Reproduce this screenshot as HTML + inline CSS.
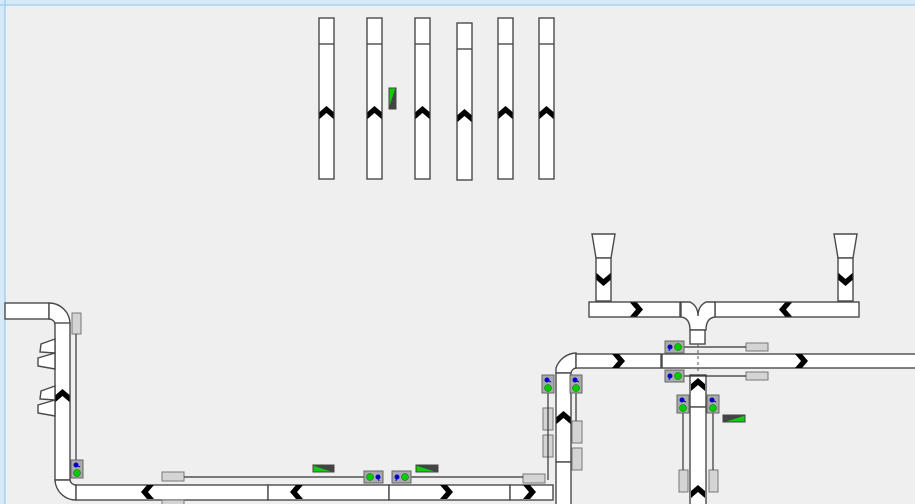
<!DOCTYPE html>
<html><head><meta charset="utf-8"><style>
html,body{margin:0;padding:0;background:#efefef;}
svg{display:block}
</style></head><body>
<svg width="915" height="504" xmlns="http://www.w3.org/2000/svg">
<defs>
<g id="chU"><polygon points="0,-7 7,-1 7,6 0,0 -7,6 -7,-1" fill="#000"/></g>
<g id="sens"><rect x="0" y="0" width="12" height="18" fill="#aaa" stroke="#666"/><circle cx="6" cy="13" r="3.5" fill="#0c0" stroke="#060" stroke-width=".5"/><circle cx="5" cy="5" r="2.5" fill="#00c"/><line x1="5" y1="5" x2="9" y2="7" stroke="#00c"/></g>
<g id="sensH"><rect x="0" y="0" width="19" height="12" fill="#aaa" stroke="#666"/><circle cx="5" cy="6" r="2.5" fill="#00c"/><line x1="5" y1="6" x2="4" y2="10" stroke="#00c"/><circle cx="13" cy="6" r="3.5" fill="#0c0" stroke="#060" stroke-width=".5"/></g>
</defs>
<rect x="0" y="0" width="915" height="5" fill="#d6e9f7"/>
<rect x="0" y="0" width="5" height="504" fill="#d6e9f7"/>
<line x1="0" y1="5" x2="915" y2="5" stroke="#8cc4ec"/>
<line x1="5" y1="0" x2="5" y2="504" stroke="#8cc4ec"/>
<g fill="#fff" stroke="#4a4a4a" stroke-width="1.4">
<rect x="319" y="18" width="15" height="161"/><line x1="319" y1="44" x2="334" y2="44"/>
<rect x="367" y="18" width="15" height="161"/><line x1="367" y1="44" x2="382" y2="44"/>
<rect x="415" y="18" width="15" height="161"/><line x1="415" y1="44" x2="430" y2="44"/>
<rect x="457" y="23" width="15" height="157"/><line x1="457" y1="49" x2="472" y2="49"/>
<rect x="498" y="18" width="15" height="161"/><line x1="498" y1="44" x2="513" y2="44"/>
<rect x="539" y="18" width="15" height="161"/><line x1="539" y1="44" x2="554" y2="44"/>
<rect x="5" y="303" width="44" height="16"/>
<path d="M49,303 A21,21 0 0 1 70,324 L55,324 A6,6 0 0 0 49,319 Z"/>
<rect x="55" y="323" width="15" height="157"/>
<path d="M55,480 L70,480 A6,6 0 0 0 76,485 L76,500 A21,21 0 0 1 55,480 Z"/>
<rect x="76" y="485" width="192" height="15"/>
<rect x="268" y="485" width="121" height="15"/>
<rect x="389" y="485" width="121" height="15"/>
<rect x="510" y="485" width="43" height="15"/>
<polygon points="55,339 41,344 40,352 55,353"/>
<polygon points="55,353 38,358 38,366 55,369"/>
<polygon points="55,386 41,391 40,399 55,400"/>
<polygon points="55,400 38,405 38,413 55,416"/>
<path d="M556,368 A22,22 0 0 1 576,353 L576,368 A6,6 0 0 0 571,373 L556,373 Z"/>
<rect x="556" y="373" width="15" height="89"/><rect x="556" y="462" width="15" height="45"/>
<rect x="576" y="354" width="85" height="14"/><rect x="662" y="354" width="260" height="14"/>
<rect x="690" y="375" width="16" height="32"/><rect x="690" y="407" width="16" height="100"/>
<polygon points="592,234 615,234 611,258 596,258"/>
<rect x="596" y="258" width="15" height="43"/>
<polygon points="834,234 857,234 853,258 838,258"/>
<rect x="838" y="258" width="15" height="43"/>
<rect x="589" y="302" width="91" height="15"/>
<rect x="715" y="302" width="144" height="15"/>
<path d="M681,302 L690,302 Q698,306 698,316 Q698,306 706,302 L715,302 L715,317 Q706,318 706,330 L690,330 Q690,318 681,317 Z"/>
<rect x="690" y="330" width="15" height="14"/>
<g fill="#d4d4d4" stroke="#777" stroke-width="1">
<rect x="72" y="313" width="9" height="21"/>
<rect x="162" y="472" width="22" height="9"/><rect x="523" y="474" width="22" height="9"/>
<rect x="543" y="408" width="10" height="22"/><rect x="543" y="435" width="10" height="22"/>
<rect x="572" y="421" width="10" height="22"/><rect x="572" y="448" width="10" height="22"/>
<rect x="746" y="343" width="22" height="8"/><rect x="746" y="372" width="22" height="8"/>
<rect x="679" y="470" width="9" height="22"/><rect x="709" y="470" width="9" height="22"/>
<rect x="162" y="500" width="22" height="6"/>
</g>
</g>
<g stroke="#333" stroke-width="1.2">
<line x1="76" y1="334" x2="76" y2="460"/>
<line x1="184" y1="477" x2="364" y2="477"/><line x1="411" y1="477" x2="523" y2="477"/>
<line x1="548" y1="393" x2="548" y2="480"/><line x1="576" y1="393" x2="576" y2="421"/>
<line x1="684" y1="347" x2="746" y2="347"/><line x1="684" y1="376" x2="746" y2="376"/>
<line x1="683" y1="413" x2="683" y2="470"/><line x1="713" y1="413" x2="713" y2="470"/>
</g>
<line x1="698" y1="344" x2="698" y2="375" stroke="#555" stroke-dasharray="3,3"/>
<use href="#sens" x="71" y="460"/>
<use href="#sens" x="542" y="375"/><use href="#sens" x="570" y="375"/>
<use href="#sens" x="677" y="395"/><use href="#sens" x="707" y="395"/>
<use href="#sensH" x="665" y="341"/><use href="#sensH" x="665" y="370"/>
<g transform="translate(383,471) scale(-1,1)"><use href="#sensH"/></g>
<use href="#sensH" x="392" y="471"/>
<g stroke="#444">
<rect x="313" y="465" width="21" height="7" fill="#444"/><polygon points="313,465 334,472 313,472" fill="#1c1"/>
<rect x="416" y="465" width="22" height="7" fill="#444"/><polygon points="416,465 438,472 416,472" fill="#1c1"/>
<rect x="723" y="415" width="22" height="7" fill="#444"/><polygon points="723,422 745,415 745,422" fill="#1c1"/>
<rect x="389" y="88" width="7" height="21" fill="#444"/><polygon points="389,88 396,88 389,109" fill="#1c1"/>
</g>
<use href="#chU" x="326.5" y="113"/><use href="#chU" x="374.5" y="113"/><use href="#chU" x="422.5" y="113"/>
<use href="#chU" x="464.5" y="116"/><use href="#chU" x="505.5" y="113"/><use href="#chU" x="546.5" y="113"/>
<use href="#chU" x="62.5" y="396"/><use href="#chU" x="563.5" y="418"/>
<use href="#chU" x="698" y="385"/><use href="#chU" x="698" y="492"/>
<g transform="translate(603.5,279) rotate(180)"><use href="#chU"/></g>
<g transform="translate(845.5,279) rotate(180)"><use href="#chU"/></g>
<g transform="translate(148,492) rotate(-90)"><use href="#chU"/></g>
<g transform="translate(297,492) rotate(-90)"><use href="#chU"/></g>
<g transform="translate(446,492) rotate(90)"><use href="#chU"/></g>
<g transform="translate(529,492) rotate(90)"><use href="#chU"/></g>
<g transform="translate(636,309.5) rotate(90)"><use href="#chU"/></g>
<g transform="translate(786,309.5) rotate(-90)"><use href="#chU"/></g>
<g transform="translate(618,361) rotate(90)"><use href="#chU"/></g>
<g transform="translate(801,361) rotate(90)"><use href="#chU"/></g>
</svg>
</body></html>
